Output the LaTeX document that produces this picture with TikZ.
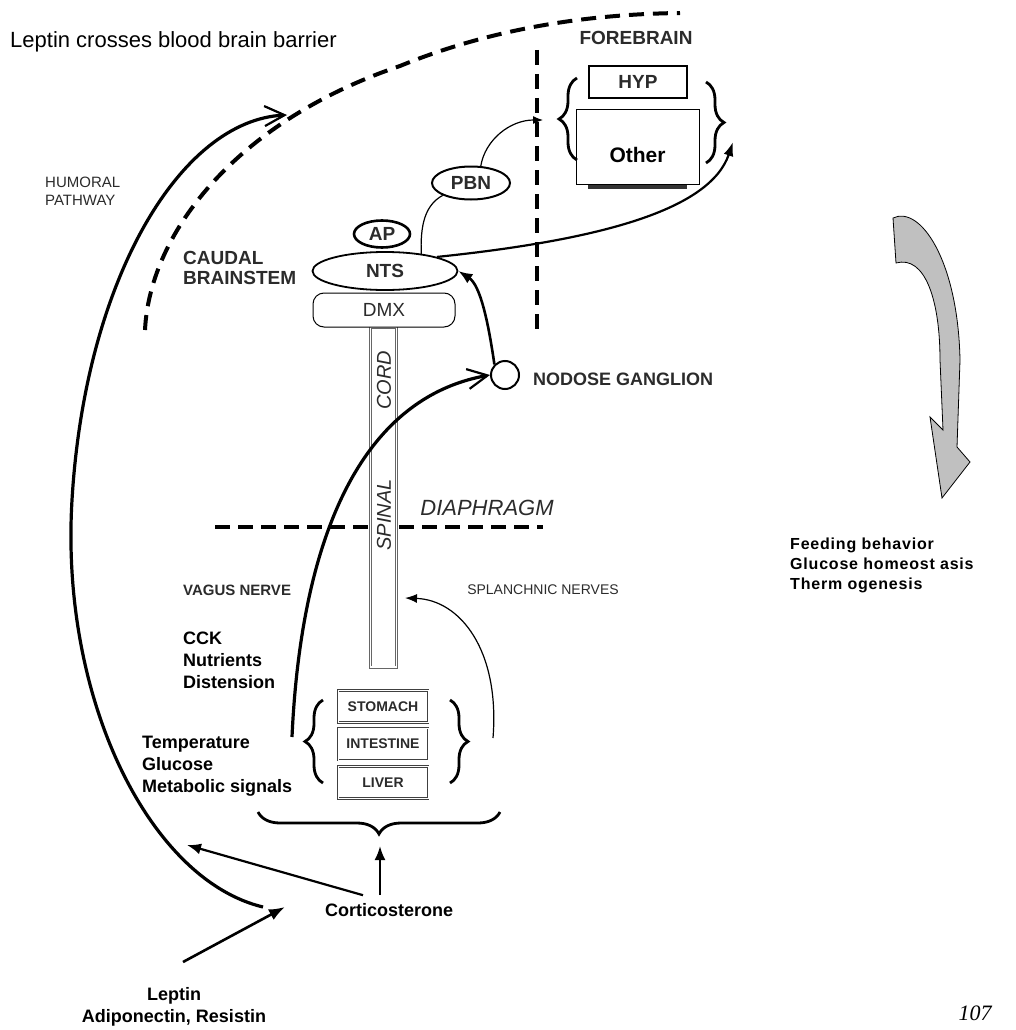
\documentclass[tikz,border=0pt]{standalone}
\usepackage{fontspec}
\setmainfont{Liberation Sans}
\newfontfamily\pagefont{Liberation Serif}
\newfontfamily\spacedfont[LetterSpace=5]{Liberation Sans}
\usetikzlibrary{calc, positioning, shapes.geometric, arrows.meta, decorations.pathreplacing}
\definecolor{scangray}{HTML}{2B2B2B}
\definecolor{arrowgray}{HTML}{C0C0C0}

\begin{document}
\begin{tikzpicture}[x=1pt, y=-1pt,
    every node/.style={inner sep=0pt, align=left},
    signal/.style={font=\fontsize{18}{22}\selectfont\bfseries},
    region/.style={font=\fontsize{19}{20}\selectfont\bfseries, text=scangray},
    smallcaps/.style={font=\fontsize{15}{18}\selectfont, text=scangray},
    nucleus/.style={ellipse, draw, font=\fontsize{19}{19}\selectfont\bfseries, text=scangray},
    organ/.style={draw=black!75, double=white, double distance=0.8pt, line width=1pt, minimum width=90pt, minimum height=32pt, align=center, font=\fontsize{14}{14}\selectfont\bfseries, text=scangray},
    barrier/.style={line width=4pt, dash pattern=on 15pt off 9pt},
    nerve/.style={line width=3.2pt},
    bracket/.style={decorate, decoration={brace, amplitude=#1}, line width=2.8pt},
    openhead/.style={-{Straight Barb[length=20pt, width=20pt, line width=2.2pt]}}
  ]
    \useasboundingbox (0,0) rectangle (1015,1030);
    \clip (0,0) rectangle (1015,1030);

    % Barriers
    \draw[barrier] (145,330) .. controls (150,230) and (240,120) .. (400,66) .. controls (500,25) and (600,14) .. (680,13);
    \draw[barrier] (537,50) -- (537,335);
    \draw[barrier, dash pattern=on 15pt off 8pt] (215,527) -- (543,527);
    \node[font=\fontsize{22}{22}\selectfont, anchor=west] (bbb) at (10,42) {Leptin crosses blood brain barrier};
    \node[font=\fontsize{22}{22}\selectfont\itshape, text=scangray] (diaphragm) at (487,508) {DIAPHRAGM};

    % Forebrain
    \node[region] (forebrain) at (636,38) {FOREBRAIN};
    \node[draw, line width=2.5pt, minimum width=98pt, minimum height=32pt, font=\fontsize{19}{19}\selectfont\bfseries, text=scangray] (hyp) at (638,82) {HYP};
    \fill[black!80] (588,178) rectangle (687,189);
    \node[draw, fill=white, line width=1pt, minimum width=123pt, minimum height=74pt, text height=31pt, text depth=0pt, font=\fontsize{21}{21}\selectfont\bfseries] (other) at (637.5,147) {Other};
    \draw[bracket=18pt] (577,160) -- (577,78);
    \draw[bracket=18pt] (706,82) -- (706,163);

    % Brainstem
    \node[draw=black!60, fill=white, double=white, double distance=1.4pt, line width=0.8pt, minimum width=26pt, minimum height=340pt] (cord) at (383.5,497) {};
    \node[rotate=90, font=\fontsize{20}{20}\selectfont\itshape, text=scangray] (cordtxt) at (384,380) {CORD};
    \node[rotate=90, font=\fontsize{20}{20}\selectfont\itshape, text=scangray] (spinal) at (384,515) {SPINAL};
    \node[nucleus, line width=1.8pt, minimum width=145pt, minimum height=38pt] (nts) at (385,271) {NTS};
    \node[nucleus, line width=2.6pt, minimum width=56pt, minimum height=27pt] (ap) at (382,234) {AP};
    \node[draw, fill=white, rounded corners=11pt, line width=1pt, minimum width=142pt, minimum height=34pt, font=\fontsize{19}{19}\selectfont, text=scangray] (dmx) at (384,310) {DMX};
    \node[nucleus, line width=2pt, minimum width=78pt, minimum height=33pt] (pbn) at (471,183) {PBN};
    \node[region, anchor=west] (caudal) at (183,268) {CAUDAL\\BRAINSTEM};
    \node[circle, draw, line width=2pt, minimum size=28pt] (ganglion) at (505,375) {};
    \node[region, font=\fontsize{18}{18}\selectfont\bfseries, anchor=west] (nodose) at (533,379) {NODOSE GANGLION};

    % Gut
    \node[organ] (stomach) at (383,706.5) {STOMACH};
    \node[organ] (intestine) at (383,744) {INTESTINE};
    \node[organ] (liver) at (383,782.5) {LIVER};
    \draw[bracket=18pt] (323,783) -- (323,700);
    \draw[bracket=18pt] (450,700) -- (450,783);
    \draw[bracket=22pt] (500,812) -- (258,812);

    % Labels
    \node[smallcaps, anchor=west] (humoral) at (45,191) {HUMORAL\\PATHWAY};
    \node[font=\fontsize{15}{15}\selectfont\bfseries, text=scangray, anchor=west] (vagus) at (183,590) {VAGUS NERVE};
    \node[smallcaps, font=\fontsize{14}{14}\selectfont] (splanchnic) at (543,590) {SPLANCHNIC NERVES};
    \node[signal, anchor=west] (vagal) at (183,660) {CCK\\Nutrients\\Distension};
    \node[signal, anchor=west] (visceral) at (142,766) {Temperature\\Glucose\\Metabolic signals};
    \node[signal, align=center] (leptin) at (174,1007) {Leptin\\Adiponectin, Resistin};
    \node[signal, anchor=west] (cort) at (325,910) {Corticosterone};
    \node[font=\spacedfont\fontsize{16}{20}\selectfont\bfseries, anchor=west] (outcome) at (790,565) {Feeding behavior\\Glucose homeost asis\\Therm ogenesis};
    \node[font=\pagefont\fontsize{22}{22}\selectfont\itshape, anchor=south] (page) at (975,1021) {107};

    % Free ends
    \coordinate (lep) at (183,962);
    \coordinate (blood) at (285,907);
    \coordinate (hstart) at (263,907);
    \coordinate (bbbtip) at (287,115);
    \coordinate (cortend) at (187,845);
    \coordinate (bracetip) at (380,846);
    \coordinate (vstart) at (292,737);
    \coordinate (gut) at (493,738);
    \coordinate (spl) at (405,598);
    \coordinate (fb) at (543,120);
    \coordinate (fbend) at (733,142);

    % Humoral pathway
    \draw[nerve, openhead] (hstart) .. controls (150,880) and (60,700) .. (72,500) .. controls (85,280) and (180,120) .. (bbbtip);
    \draw[line width=2.6pt, -{Latex[length=16pt, width=12pt]}] (lep) -- (blood);
    \draw[line width=2.2pt, -{Latex[length=14pt, width=11pt]}] ($(cort.north west)+(38,-8)$) -- (cortend);
    \draw[line width=2.2pt, -{Latex[length=14pt, width=11pt]}] ($(cort.north west)+(55,-8)$) -- (bracetip);

    % Vagal and spinal afferents
    \draw[nerve, openhead] (vstart) .. controls (300,560) and (350,400) .. (ganglion.west);
    \draw[line width=2.6pt, -{Latex[length=14pt, width=11pt]}] (ganglion.north west) .. controls (488,320) and (480,285) .. (nts.east);
    \draw[line width=1.2pt, -{Latex[length=12pt, width=9pt]}] (gut) .. controls (500,650) and (460,600) .. (spl);

    % Ascending projections
    \draw[line width=1.2pt] ($(nts.north)!0.7!(nts.north east)$) .. controls (420,225) and (425,205) .. (pbn.south west);
    \draw[line width=1.2pt, -{Latex[length=10pt, width=8pt]}] (pbn.60) .. controls (485,140) and (510,120) .. (fb);
    \draw[line width=2.2pt, -{Latex[length=14pt, width=10pt]}] (nts.north east) .. controls (600,240) and (710,210) .. (fbend);

    % Output arrow
    \filldraw[fill=arrowgray, draw=black, line width=0.8pt] (893,218) .. controls (920,205) and (958,260) .. (960,360)
      -- (957,447) -- (970,462) -- (942,498) -- (930,417) -- (943,430) -- (940,360)
      .. controls (940,300) and (925,255) .. (896,263) -- cycle;
\end{tikzpicture}
\end{document}
